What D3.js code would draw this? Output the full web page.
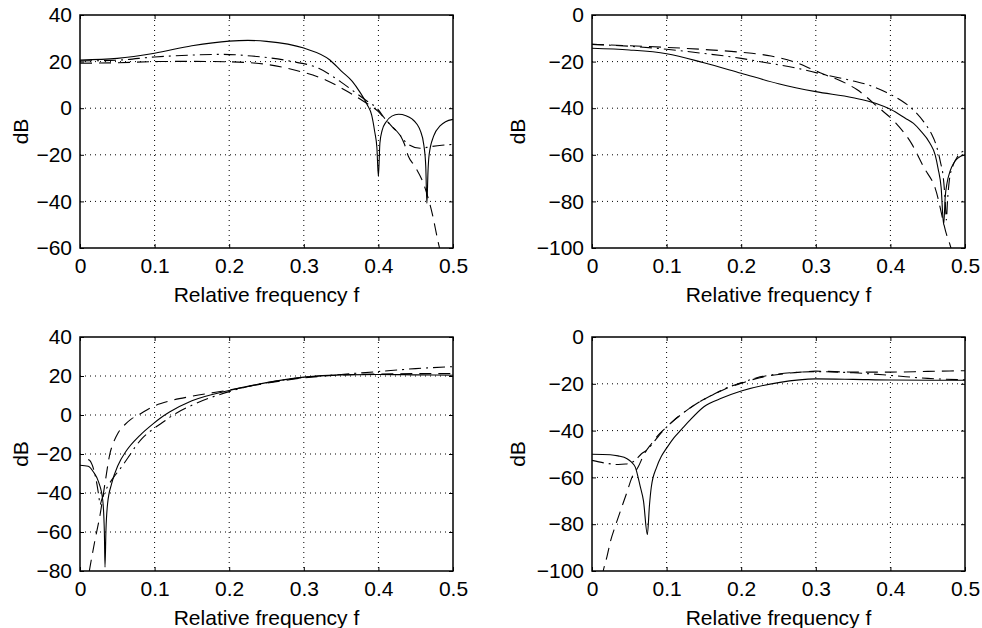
<!DOCTYPE html>
<html>
<head>
<meta charset="UTF-8" />
<script src="https://d3js.org/d3.v7.min.js"></script>
<title>Relative frequency responses</title>
<style>
  body { margin: 0; background: #fff; }
  text { font-family: "Liberation Sans", Arial, Helvetica, sans-serif; fill: #000; }
</style>
</head>
<body>
<div id="chart"></div>
<script>
// x ticks shared by all panels
var fTicks = [0, 0.1, 0.2, 0.3, 0.4, 0.5];

// y ticks per panel
var p1Ticks = [-60, -40, -20, 0, 20, 40];
var p2Ticks = [-100, -80, -60, -40, -20, 0];
var p3Ticks = [-80, -60, -40, -20, 0, 20, 40];
var p4Ticks = [-100, -80, -60, -40, -20, 0];

// panel 1 (top left) [f, dB]
var p1Solid = [[0,20.7],[0.05,21.4],[0.1,23.6],[0.15,26.8],[0.2,28.8],[0.225,29.1],[0.25,28.7],[0.3,25.8],[0.335,20.7],[0.35,16],[0.365,11.5],[0.375,7],[0.385,1.5],[0.391,-3],[0.395,-10],[0.398,-17],[0.4,-29.3],[0.402,-15],[0.405,-9.5],[0.41,-6],[0.418,-3.4],[0.427,-2.6],[0.437,-3.2],[0.445,-4.6],[0.452,-7],[0.456,-9.5],[0.461,-16],[0.4635,-25],[0.465,-40.8],[0.4665,-27],[0.468,-20],[0.474,-12],[0.483,-7.5],[0.49,-5.8],[0.5,-4.8]];
var p1Dash = [[0,19.3],[0.05,19.5],[0.1,20],[0.15,20.1],[0.2,19.9],[0.24,19.2],[0.29,16.2],[0.33,12],[0.355,7.8],[0.38,3],[0.4,-1.5],[0.41,-5],[0.42,-8.5],[0.43,-12],[0.435,-15.5],[0.44,-20.5],[0.449,-25],[0.46,-32],[0.472,-45],[0.48,-57.3],[0.485,-64]];
var p1DashDot = [[0,20.3],[0.05,20.6],[0.1,22],[0.15,22.8],[0.19,23.1],[0.23,22.4],[0.28,20.3],[0.32,17.1],[0.35,11.2],[0.37,6.5],[0.385,3],[0.398,0],[0.41,-5],[0.425,-10],[0.44,-15.5],[0.456,-17.2],[0.47,-16.5],[0.485,-15.9],[0.5,-15.5]];

// panel 2 (top right)
var p2Solid = [[0,-14.3],[0.05,-15],[0.1,-16.6],[0.15,-20.5],[0.2,-25],[0.25,-29.5],[0.3,-32.9],[0.35,-35.5],[0.38,-37.9],[0.4,-40.5],[0.42,-44.3],[0.431,-46.5],[0.44,-49.5],[0.453,-55],[0.46,-60],[0.464,-66],[0.468,-74],[0.4714,-90],[0.4735,-78],[0.476,-72],[0.48,-67],[0.485,-63.5],[0.49,-61.5],[0.5,-60]];
var p2Dash = [[0,-12.6],[0.05,-13.2],[0.1,-13.9],[0.15,-14.8],[0.2,-16],[0.24,-17.6],[0.27,-20],[0.3,-24],[0.315,-26],[0.33,-27.8],[0.355,-32],[0.384,-39.7],[0.407,-46.3],[0.428,-55],[0.445,-65.5],[0.46,-74.3],[0.476,-95],[0.48,-98.7],[0.483,-102]];
var p2DashDot = [[0,-12.6],[0.05,-13.4],[0.1,-14.7],[0.15,-16.5],[0.2,-18.6],[0.23,-20.3],[0.27,-22.5],[0.31,-25.5],[0.35,-28.3],[0.37,-30],[0.395,-33.3],[0.415,-36.8],[0.43,-40.5],[0.445,-46],[0.455,-51],[0.462,-56.5],[0.467,-63],[0.471,-70],[0.4735,-80],[0.475,-88],[0.4765,-80],[0.479,-71],[0.484,-64.5],[0.49,-60.8],[0.5,-58]];

// panel 3 (bottom left)
var p3Solid = [[0,-25.8],[0.011,-26.3],[0.018,-29.2],[0.025,-34.4],[0.0305,-43.7],[0.0327,-60.8],[0.0335,-78],[0.0348,-59],[0.037,-45.4],[0.0424,-35.2],[0.051,-25.8],[0.0626,-18.1],[0.0804,-10.4],[0.0983,-4.4],[0.107,-1.8],[0.12,1.5],[0.15,7.3],[0.2,12.6],[0.25,16.6],[0.3,19.4],[0.35,20.6],[0.4,20.8],[0.45,20.6],[0.5,20.4]];
var p3Dash = [[0.008,-90],[0.0134,-78],[0.02,-64.3],[0.0268,-51.4],[0.0335,-35],[0.04,-20],[0.045,-14],[0.051,-9.2],[0.06,-5],[0.069,-2],[0.08,0.4],[0.094,3.6],[0.1,4.7],[0.12,7.2],[0.15,9.6],[0.2,12.8],[0.25,16.3],[0.3,19],[0.35,20.5],[0.4,21],[0.45,21.2],[0.5,21.2]];
var p3DashDot = [[0.011,-22.8],[0.013,-23.3],[0.018,-27.5],[0.022,-34],[0.025,-41],[0.027,-46],[0.029,-43.5],[0.032,-40.5],[0.038,-36],[0.045,-32],[0.054,-27.5],[0.065,-21.5],[0.074,-16.4],[0.083,-12.1],[0.096,-7.8],[0.11,-4],[0.125,0],[0.15,5],[0.2,12],[0.25,16.5],[0.3,19.3],[0.35,20.8],[0.4,22.3],[0.45,23.8],[0.5,24.8]];

// panel 4 (bottom right)
var p4Solid = [[0,-50.1],[0.0245,-50.3],[0.035,-50.8],[0.047,-52],[0.053,-53.5],[0.058,-55.6],[0.0648,-64.1],[0.069,-70],[0.0742,-84.4],[0.077,-72],[0.0795,-64.1],[0.0867,-55.6],[0.093,-51],[0.1,-47.5],[0.11,-43],[0.12,-39.5],[0.13,-36],[0.15,-29.8],[0.175,-26],[0.2,-23.1],[0.25,-19.5],[0.3,-17.9],[0.35,-18.1],[0.4,-18.4],[0.5,-18.5]];
var p4Dash = [[0.013,-103],[0.015,-100],[0.02,-94],[0.025,-87],[0.031,-81],[0.04,-72.6],[0.047,-66.2],[0.053,-60.4],[0.062,-55.5],[0.07,-50],[0.08,-45.5],[0.09,-41.5],[0.1,-38.5],[0.11,-35.5],[0.12,-33],[0.14,-28.5],[0.16,-25],[0.18,-22],[0.2,-19.8],[0.22,-17.8],[0.25,-16],[0.28,-15],[0.3,-14.6],[0.35,-15],[0.4,-15],[0.45,-14.7],[0.5,-14.4]];
var p4DashDot = [[0,-52.7],[0.02,-54],[0.035,-54.5],[0.045,-54.3],[0.052,-53.8],[0.058,-52.7],[0.066,-50],[0.074,-48.2],[0.082,-45.2],[0.09,-42],[0.1,-38.5],[0.12,-33],[0.14,-28.5],[0.16,-25],[0.18,-21.8],[0.2,-19.6],[0.22,-17.5],[0.25,-15.8],[0.28,-15],[0.3,-14.8],[0.35,-15.3],[0.4,-16.4],[0.45,-17.7],[0.5,-18.3]];

var W = 982, H = 628;
var svg = d3.select("#chart").append("svg")
  .attr("width", W).attr("height", H);

var panels = [
  { id: 1, x0: 80, x1: 453, y0: 15, y1: 248, ticks: p1Ticks, labX: 28, lines: [p1Solid, p1Dash, p1DashDot] },
  { id: 2, x0: 592, x1: 965, y0: 15, y1: 248, ticks: p2Ticks, labX: 525, lines: [p2Solid, p2Dash, p2DashDot] },
  { id: 3, x0: 80, x1: 453, y0: 337, y1: 571, ticks: p3Ticks, labX: 28, lines: [p3Solid, p3Dash, p3DashDot] },
  { id: 4, x0: 592, x1: 965, y0: 337, y1: 571, ticks: p4Ticks, labX: 525, lines: [p4Solid, p4Dash, p4DashDot] }
];

// solid, dashed, dash-dot
var styles = ["none", "12,7", "12,5,2,5"];

// minus sign like the original print
var yFmt = function(d) { return d < 0 ? "\u2212" + Math.abs(d) : String(d); };

panels.forEach(function(p) {
  var x = d3.scaleLinear().domain([0, 0.5]).range([p.x0, p.x1]);
  var y = d3.scaleLinear().domain(d3.extent(p.ticks)).range([p.y1, p.y0]);
  var g = svg.append("g");

  svg.append("clipPath").attr("id", "clip" + p.id)
    .append("rect")
    .attr("x", p.x0).attr("y", p.y0)
    .attr("width", p.x1 - p.x0).attr("height", p.y1 - p.y0);

  // dotted grid
  g.selectAll(".gx").data(fTicks.slice(1, -1)).enter().append("line")
    .attr("x1", d => x(d)).attr("x2", d => x(d))
    .attr("y1", p.y0).attr("y2", p.y1)
    .attr("stroke", "#000").attr("stroke-width", 1)
    .attr("stroke-dasharray", "1,4");
  g.selectAll(".gy").data(p.ticks.slice(1, -1)).enter().append("line")
    .attr("y1", d => y(d)).attr("y2", d => y(d))
    .attr("x1", p.x0).attr("x2", p.x1)
    .attr("stroke", "#000").attr("stroke-width", 1)
    .attr("stroke-dasharray", "1,4");

  // axes, ticks pointing inward
  g.append("g").attr("transform", "translate(0," + p.y1 + ")")
    .call(d3.axisBottom(x).tickValues(fTicks).tickSize(-4).tickPadding(10).tickFormat(d3.format("")))
    .call(a => a.select(".domain").remove())
    .call(a => a.selectAll("text").style("font-size", "21px").style("font-family", null));
  g.append("g").attr("transform", "translate(0," + p.y0 + ")")
    .call(d3.axisTop(x).tickValues(fTicks).tickSize(-4).tickFormat(""))
    .call(a => a.select(".domain").remove());
  g.append("g").attr("transform", "translate(" + p.x0 + ",0)")
    .call(d3.axisLeft(y).tickValues(p.ticks).tickSize(-4).tickPadding(8).tickFormat(yFmt))
    .call(a => a.select(".domain").remove())
    .call(a => a.selectAll("text").style("font-size", "21px").style("font-family", null));
  g.append("g").attr("transform", "translate(" + p.x1 + ",0)")
    .call(d3.axisRight(y).tickValues(p.ticks).tickSize(-4).tickFormat(""))
    .call(a => a.select(".domain").remove());
  g.selectAll(".tick line").attr("stroke", "#000");

  // box
  g.append("rect")
    .attr("x", p.x0).attr("y", p.y0)
    .attr("width", p.x1 - p.x0).attr("height", p.y1 - p.y0)
    .attr("fill", "none").attr("stroke", "#000").attr("stroke-width", 1.5);

  // curves
  var line = d3.line()
    .x(d => x(d[0])).y(d => y(d[1]))
    .curve(d3.curveMonotoneX);
  p.lines.forEach(function(data, i) {
    g.append("path")
      .datum(data)
      .attr("clip-path", "url(#clip" + p.id + ")")
      .attr("d", line)
      .attr("fill", "none")
      .attr("stroke", "#000")
      .attr("stroke-width", 1.1)
      .attr("stroke-dasharray", styles[i]);
  });

  // labels
  g.append("text")
    .attr("x", (p.x0 + p.x1) / 2).attr("y", p.y1 + 54)
    .attr("text-anchor", "middle")
    .style("font-size", "21px")
    .text("Relative frequency f");
  g.append("text")
    .attr("transform", "translate(" + p.labX + "," + (p.y0 + p.y1) / 2 + ")rotate(-90)")
    .attr("text-anchor", "middle")
    .style("font-size", "21px")
    .text("dB");
});
</script>
</body>
</html>
